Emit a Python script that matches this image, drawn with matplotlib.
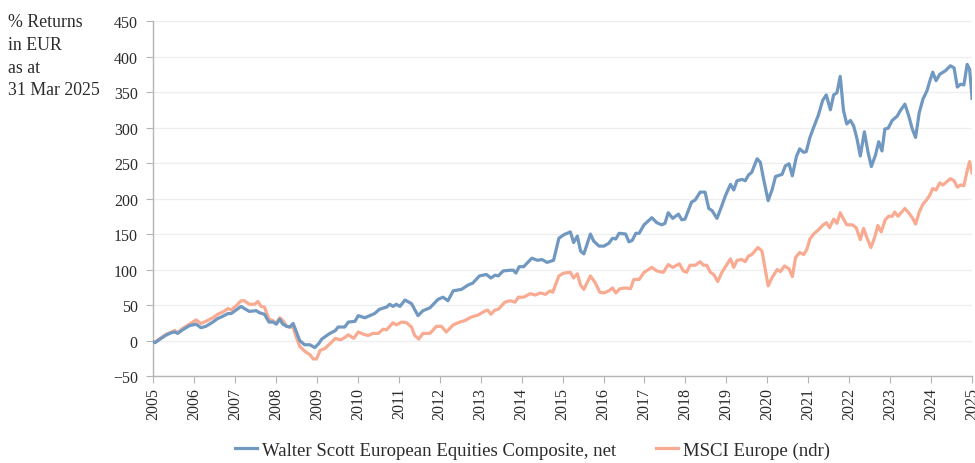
import matplotlib
matplotlib.use("Agg")
import matplotlib.pyplot as plt

plt.rcParams['font.family'] = ['Liberation Serif', 'DejaVu Serif']

# Walter Scott European Equities Composite, net (cumulative % return, EUR)
ws_x = [2005.00, 2005.05, 2005.17, 2005.33, 2005.45, 2005.53, 2005.60, 2005.72, 2005.89,
        2006.05, 2006.17, 2006.29, 2006.46, 2006.58, 2006.70, 2006.83, 2006.91,
        2007.03, 2007.15, 2007.23, 2007.35, 2007.52, 2007.60, 2007.72, 2007.83, 2007.93,
        2008.01, 2008.09, 2008.17, 2008.26, 2008.34, 2008.42, 2008.50, 2008.58, 2008.70,
        2008.83, 2008.95, 2009.05, 2009.12, 2009.29, 2009.45, 2009.52, 2009.68, 2009.77,
        2009.93, 2010.01, 2010.17, 2010.41, 2010.53, 2010.70, 2010.78, 2010.86, 2010.94,
        2011.03, 2011.15, 2011.31, 2011.47, 2011.59, 2011.76, 2011.96, 2012.08, 2012.20,
        2012.33, 2012.53, 2012.69, 2012.81, 2012.97, 2013.14, 2013.25, 2013.35, 2013.43,
        2013.55, 2013.72, 2013.80, 2013.86, 2013.94, 2014.05, 2014.25, 2014.38, 2014.50,
        2014.62, 2014.78, 2014.91, 2015.03, 2015.19, 2015.27, 2015.36, 2015.44, 2015.52,
        2015.68, 2015.76, 2015.89, 2016.01, 2016.13, 2016.22, 2016.30, 2016.38, 2016.54,
        2016.62, 2016.70, 2016.79, 2016.87, 2016.99, 2017.18, 2017.30, 2017.42, 2017.50,
        2017.58, 2017.69, 2017.83, 2017.91, 2017.99, 2018.15, 2018.24, 2018.36, 2018.48,
        2018.57, 2018.65, 2018.77, 2018.89, 2018.97, 2019.10, 2019.18, 2019.26, 2019.38,
        2019.46, 2019.54, 2019.62, 2019.75, 2019.83, 2019.91, 2020.02, 2020.12, 2020.20,
        2020.36, 2020.44, 2020.53, 2020.61, 2020.71, 2020.79, 2020.89, 2020.95, 2021.04,
        2021.13, 2021.25, 2021.35, 2021.44, 2021.54, 2021.62, 2021.70, 2021.78, 2021.86,
        2021.94, 2022.03, 2022.11, 2022.19, 2022.27, 2022.37, 2022.46, 2022.54, 2022.64,
        2022.72, 2022.80, 2022.87, 2022.95, 2023.05, 2023.17, 2023.25, 2023.36, 2023.45,
        2023.54, 2023.62, 2023.71, 2023.80, 2023.90, 2023.96, 2024.04, 2024.12, 2024.21,
        2024.35, 2024.47, 2024.56, 2024.64, 2024.72, 2024.80, 2024.88, 2024.94, 2025.00]
ws_y = [-2, -3, 2, 8, 11, 12, 10, 15, 21,
        23, 18, 20, 26, 31, 34, 38, 38,
        43, 48, 45, 41, 42, 39, 37, 26, 26,
        23, 30, 23, 20, 19, 24, 12, 0, -6,
        -6, -10, -4, 2, 9, 14, 19, 19, 26,
        27, 35, 32, 38, 44, 47, 51, 48, 51,
        48, 57, 52, 35, 42, 46, 58, 61, 56,
        70, 72, 78, 81, 91, 93, 88, 92, 91,
        98, 99, 99, 95, 104, 104, 116, 113, 114,
        110, 113, 144, 149, 153, 138, 147, 126, 122,
        150, 140, 133, 133, 137, 144, 143, 151, 150,
        139, 141, 151, 151, 163, 173, 166, 163, 165,
        180, 172, 178, 170, 171, 195, 198, 209, 209,
        186, 183, 172, 190, 203, 220, 212, 225, 227,
        225, 233, 237, 256, 251, 227, 197, 213, 231,
        234, 246, 249, 232, 259, 270, 265, 266, 286,
        300, 318, 338, 346, 325, 346, 349, 372, 324,
        305, 310, 302, 284, 260, 294, 265, 245, 261,
        280, 267, 298, 299, 310, 316, 324, 333, 317,
        298, 286, 321, 340, 352, 364, 378, 366, 375,
        380, 387, 384, 357, 361, 360, 389, 382, 341]

# MSCI Europe (ndr)
msci_x = [2005.00, 2005.05, 2005.17, 2005.33, 2005.45, 2005.53, 2005.60, 2005.72, 2005.89,
          2006.05, 2006.17, 2006.29, 2006.46, 2006.58, 2006.70, 2006.83, 2006.91,
          2007.03, 2007.15, 2007.23, 2007.35, 2007.48, 2007.56, 2007.64, 2007.72, 2007.83,
          2007.93, 2008.01, 2008.09, 2008.17, 2008.26, 2008.34, 2008.42, 2008.50, 2008.58,
          2008.70, 2008.83, 2008.91, 2008.99, 2009.08, 2009.20, 2009.33, 2009.45, 2009.57,
          2009.65, 2009.77, 2009.90, 2010.01, 2010.13, 2010.25, 2010.37, 2010.50, 2010.62,
          2010.70, 2010.86, 2010.94, 2011.07, 2011.19, 2011.31, 2011.39, 2011.49, 2011.59,
          2011.76, 2011.92, 2012.04, 2012.16, 2012.33, 2012.49, 2012.61, 2012.77, 2012.94,
          2013.09, 2013.17, 2013.25, 2013.35, 2013.43, 2013.59, 2013.72, 2013.84, 2013.92,
          2014.05, 2014.21, 2014.33, 2014.46, 2014.58, 2014.70, 2014.76, 2014.91, 2015.03,
          2015.19, 2015.27, 2015.36, 2015.44, 2015.52, 2015.68, 2015.80, 2015.91, 2016.01,
          2016.13, 2016.22, 2016.30, 2016.40, 2016.54, 2016.66, 2016.74, 2016.87, 2016.99,
          2017.18, 2017.30, 2017.46, 2017.58, 2017.69, 2017.85, 2017.95, 2018.03, 2018.11,
          2018.24, 2018.36, 2018.44, 2018.52, 2018.61, 2018.69, 2018.79, 2018.89, 2019.00,
          2019.10, 2019.18, 2019.26, 2019.38, 2019.46, 2019.54, 2019.62, 2019.77, 2019.87,
          2020.02, 2020.12, 2020.24, 2020.32, 2020.42, 2020.53, 2020.61, 2020.69, 2020.79,
          2020.89, 2020.97, 2021.04, 2021.13, 2021.25, 2021.35, 2021.44, 2021.52, 2021.62,
          2021.70, 2021.78, 2021.86, 2021.94, 2022.07, 2022.17, 2022.27, 2022.35, 2022.43,
          2022.53, 2022.62, 2022.70, 2022.78, 2022.88, 2022.96, 2023.05, 2023.11, 2023.19,
          2023.36, 2023.45, 2023.54, 2023.62, 2023.71, 2023.80, 2023.90, 2023.96, 2024.04,
          2024.12, 2024.21, 2024.29, 2024.39, 2024.47, 2024.56, 2024.64, 2024.72, 2024.80,
          2024.88, 2024.94, 2025.00]
msci_y = [-2, -2, 3, 9, 12, 14, 11, 17, 23,
          29, 24, 27, 32, 37, 40, 45, 43,
          49, 56, 56, 51, 51, 55, 48, 47, 30,
          28, 24, 32, 28, 20, 19, 19, 4, -8,
          -15, -20, -26, -26, -14, -11, -4, 3, 1,
          3, 8, 3, 12, 9, 7, 10, 10, 16,
          15, 25, 22, 26, 25, 19, 7, 2, 10,
          10, 20, 20, 12, 22, 26, 28, 33, 36,
          41, 43, 37, 43, 44, 54, 56, 54, 61,
          61, 66, 64, 67, 65, 70, 68, 91, 95,
          96, 88, 94, 78, 72, 91, 81, 68, 67,
          70, 74, 67, 73, 74, 73, 86, 86, 96,
          103, 98, 96, 107, 103, 108, 98, 96, 106,
          106, 111, 106, 106, 96, 93, 83, 96, 106,
          115, 103, 113, 114, 111, 119, 121, 131, 126,
          77, 89, 100, 97, 105, 101, 90, 117, 124,
          121, 129, 143, 150, 156, 162, 166, 159, 171,
          165, 180, 171, 163, 163, 159, 142, 158, 145,
          131, 145, 162, 153, 170, 175, 175, 181, 175,
          186, 180, 173, 164, 181, 192, 199, 204, 214,
          212, 222, 219, 224, 228, 225, 216, 219, 218,
          239, 252, 236]

years = list(range(2005, 2026))
y_ticks = list(range(-50, 451, 50))

blue = '#7198c0'
salmon = '#f9ab92'
grey = '#b5b5b5'
text_col = '#2b2b2b'

fig = plt.figure(figsize=(9.75, 4.64), dpi=100)
ax = fig.add_axes([0.157, 0.1875, 0.84, 0.765])

ax.plot(ws_x, ws_y, color=blue, linewidth=2.3,
        label='Walter Scott European Equities Composite, net', zorder=3)
ax.plot(msci_x, msci_y, color=salmon, linewidth=2.3,
        label='MSCI Europe (ndr)', zorder=2)

ax.set_xlim(2005, 2025)
ax.set_ylim(-50, 450)
ax.set_yticks(y_ticks)
ax.set_xticks(years)
ax.set_xticklabels([str(y) for y in years], rotation=90, fontsize=11.5, color=text_col)
ax.tick_params(axis='y', labelsize=11.5, colors=text_col, length=5, color=grey, pad=6)
ax.tick_params(axis='x', length=5, color=grey, pad=3)

ax.grid(axis='y', color='#eeeeee', linewidth=0.9)
ax.set_axisbelow(True)
for side in ['top', 'right']:
    ax.spines[side].set_visible(False)
for side in ['left', 'bottom']:
    ax.spines[side].set_color(grey)
    ax.spines[side].set_linewidth(1.0)

fig.text(0.008, 0.97, '% Returns\nin EUR\nas at\n31 Mar 2025', fontsize=12.8,
         color=text_col, va='top', ha='left', linespacing=1.45)

fig.legend(loc='lower center', bbox_to_anchor=(0.546, -0.028), ncol=2, frameon=False,
           fontsize=13.5, handlelength=1.2, handletextpad=0.25, columnspacing=2.1,
           labelcolor=text_col)

fig.savefig('out.png', dpi=100)
